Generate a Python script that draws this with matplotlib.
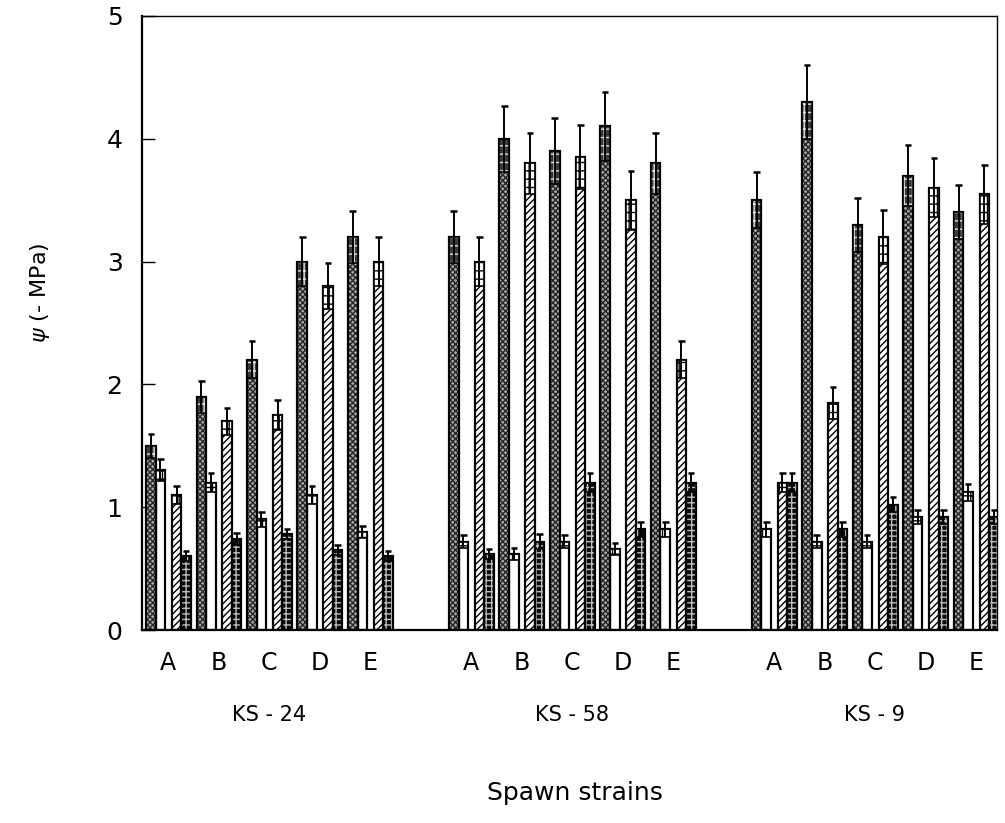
import numpy as np
import matplotlib
matplotlib.use("Agg")
import matplotlib.pyplot as plt

plt.rcParams['font.family'] = ['DejaVu Sans']
plt.rcParams['hatch.linewidth'] = 1.0

# groups of spawn strains, five strains each
groups = ['KS - 24', 'KS - 58', 'KS - 9']
strains = ['A', 'B', 'C', 'D', 'E']

# four series per strain (stippled, white, hatched, dark checker), with errors
stip = [1.5, 1.9, 2.2, 3.0, 3.2, 3.2, 4.0, 3.9, 4.1, 3.8, 3.5, 4.3, 3.3, 3.7, 3.4]
stip_err = [0.10, 0.13, 0.15, 0.20, 0.21, 0.21, 0.27, 0.27, 0.28, 0.25,
            0.23, 0.30, 0.22, 0.25, 0.22]
white = [1.3, 1.2, 0.9, 1.1, 0.8, 0.72, 0.62, 0.72, 0.66, 0.82,
         0.82, 0.72, 0.72, 0.92, 1.12]
white_err = [0.09, 0.08, 0.06, 0.07, 0.05, 0.05, 0.05, 0.05, 0.05, 0.06,
             0.06, 0.05, 0.05, 0.06, 0.07]
hatch = [1.1, 1.7, 1.75, 2.8, 3.0, 3.0, 3.8, 3.85, 3.5, 2.2,
         1.2, 1.85, 3.2, 3.6, 3.55]
hatch_err = [0.07, 0.11, 0.12, 0.19, 0.20, 0.20, 0.25, 0.26, 0.24, 0.15,
             0.08, 0.13, 0.22, 0.24, 0.24]
check = [0.6, 0.74, 0.78, 0.65, 0.6, 0.62, 0.72, 1.2, 0.82, 1.2,
         1.2, 0.82, 1.02, 0.92, 0.92]
check_err = [0.04, 0.05, 0.04, 0.04, 0.04, 0.04, 0.06, 0.08, 0.06, 0.08,
             0.08, 0.06, 0.06, 0.06, 0.06]

# strain positions: 6 units between groups
x = np.array([6 * g + s for g in range(len(groups)) for s in range(len(strains))], dtype=float)

fig = plt.figure(figsize=(10.05, 8.23), dpi=100)
ax = fig.add_axes([0.1413, 0.2345, 0.8507, 0.7461])

w = 0.19
# (values, errors, offset, face, hatch pattern, hatch colour, box face, box hatch colour)
series = [
    (stip, stip_err, -0.34, '#a8a8a8', 'xxxxxx', '#262626', '#3a3a3a', '#dddddd'),
    (white, white_err, -0.15, 'white', None, 'black', 'white', 'black'),
    (hatch, hatch_err, 0.17, 'white', '/////', 'black', 'white', 'black'),
    (check, check_err, 0.36, '#0a0a0a', '+++', '#bdbdbd', '#0a0a0a', '#bdbdbd'),
]

for vals, errs, off, face, hpat, hcol, bface, bhcol in series:
    vals = np.array(vals)
    errs = np.array(errs)
    xs = x + off
    ax.bar(xs, vals, w, color=face, edgecolor=hcol, hatch=hpat, linewidth=0, zorder=2)
    ax.bar(xs, vals, w, facecolor='none', edgecolor='black', linewidth=1.6, zorder=3)
    # small box marking the lower half of the error bar
    ax.bar(xs, errs, w, bottom=vals - errs, color=bface, edgecolor=bhcol,
           hatch='++', linewidth=0, zorder=3)
    ax.bar(xs, errs, w, bottom=vals - errs, facecolor='none', edgecolor='black',
           linewidth=1.2, zorder=4)
    ax.vlines(xs, vals - errs, vals + errs, colors='black', linewidth=1.4, zorder=5)
    ax.hlines(vals + errs, xs - 0.065, xs + 0.065, colors='black', linewidth=1.8, zorder=5)

ax.set_xlim(-0.515, 16.42)
ax.set_ylim(0, 5)
ax.set_yticks([0, 1, 2, 3, 4, 5])
ax.tick_params(axis='y', direction='in', length=9, width=1, labelsize=18, pad=14)
ax.set_xticks(x)
ax.set_xticklabels(strains * len(groups))
ax.tick_params(axis='x', length=0, labelsize=17, pad=15)

for sp in ['left', 'bottom']:
    ax.spines[sp].set_linewidth(1.6)
for sp in ['top', 'right']:
    ax.spines[sp].set_linewidth(1.0)

for g, name in enumerate(groups):
    ax.text(6 * g + 2, -0.69, name, ha='center', va='center', fontsize=15, clip_on=False)

fig.text(0.572, 1 - 793 / 823, 'Spawn strains', ha='center', va='center', fontsize=18)
fig.text(40 / 1005, 1 - 293 / 823, r'$\psi$ (- MPa)', ha='center', va='center',
         rotation=90, fontsize=16)

fig.savefig('out.png', dpi=100)
